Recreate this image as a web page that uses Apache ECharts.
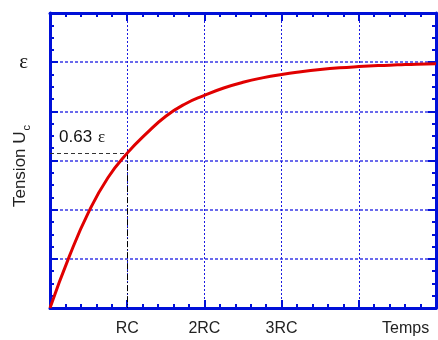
<!DOCTYPE html>
<html>
<head>
<meta charset="utf-8">
<script src="https://cdn.jsdelivr.net/npm/echarts@6/dist/echarts.min.js"></script>
<style>
  html, body { margin: 0; padding: 0; background: #fff; }
  #chart { width: 438px; height: 340px; }
</style>
</head>
<body>
<div id="chart"></div>
<script>
// temps en unités de RC, tension en unités de ε
var tValues = [0, 0.25, 0.5, 0.75, 1, 1.25, 1.5, 1.75, 2, 2.25, 2.5, 2.75, 3, 3.25, 3.5, 3.75, 4, 4.25, 4.5, 4.75, 5];
var uValues = [0, 0.21, 0.39, 0.53, 0.63, 0.71, 0.78, 0.83, 0.865, 0.895, 0.918, 0.936, 0.95, 0.961, 0.97, 0.977, 0.982, 0.986, 0.989, 0.992, 0.994];
var xTickLabels = ['', 'RC', '2RC', '3RC', '', ''];
var yTickLabels = ['', '', '', '', '', '\u03b5', ''];
var tau = 1, uTau = 0.63;

var blue = '#0010d8';
var chart = echarts.init(document.getElementById('chart'));

var curve = tValues.map(function (t, i) { return [t, uValues[i]]; });

function axisBase(pos) {
  return {
    type: 'value',
    position: pos,
    axisLine: { show: true, onZero: false, lineStyle: { color: blue, width: 3 } },
    axisTick: { show: true, inside: true, length: 8, lineStyle: { color: blue, width: 2 } },
    minorTick: { show: true, length: 4, lineStyle: { color: blue, width: 2 } },
    splitLine: { show: false },
    axisLabel: { show: false }
  };
}

var xBottom = axisBase('bottom');
xBottom.min = 0; xBottom.max = 5; xBottom.interval = 1;
xBottom.minorTick.splitNumber = 5;
xBottom.splitLine = { show: true, lineStyle: { color: '#1a1ae0', width: 1, type: [2, 2] } };
xBottom.axisLabel = {
  show: true, margin: 13, color: '#222', fontSize: 16, fontFamily: 'Liberation Sans',
  formatter: function (v) { return xTickLabels[Math.round(v)] || ''; }
};

var xTop = axisBase('top');
xTop.min = 0; xTop.max = 5; xTop.interval = 1;
xTop.minorTick.splitNumber = 5;

var yLeft = axisBase('left');
yLeft.min = 0; yLeft.max = 1.2; yLeft.interval = 0.2;
yLeft.minorTick.splitNumber = 4;
yLeft.splitLine = { show: true, lineStyle: { color: '#3a3ae6', width: 1.5, type: [3, 2] } };
yLeft.axisLabel = {
  show: true, margin: 22, color: '#111', fontSize: 21, fontFamily: 'Liberation Serif',
  formatter: function (v) { return yTickLabels[Math.round(v * 5)] || ''; }
};

var yRight = axisBase('right');
yRight.min = 0; yRight.max = 1.2; yRight.interval = 0.2;
yRight.minorTick.splitNumber = 4;

var option = {
  animation: false,
  grid: { left: 50, right: 2, top: 13, bottom: 32, outerBoundsMode: 'none' },
  xAxis: [xBottom, xTop],
  yAxis: [yLeft, yRight],
  graphic: [
    {
      type: 'text', x: 20, y: 166, rotation: Math.PI / 2,
      style: {
        text: 'Tension U{s|c}', align: 'center', verticalAlign: 'middle',
        fontSize: 17, fontFamily: 'Liberation Sans', fill: '#222',
        rich: { s: { fontSize: 11, fontFamily: 'Liberation Sans', fill: '#222', padding: [14, 0, 0, 1] } }
      }
    },
    { type: 'text', left: 59, top: 129, style: { text: '0.63', fontSize: 17, fontFamily: 'Liberation Sans', fill: '#111' } },
    { type: 'text', left: 98, top: 129, style: { text: '\u03b5', fontSize: 17, fontFamily: 'Liberation Serif', fill: '#111' } },
    { type: 'text', left: 382, top: 321, style: { text: 'Temps', fontSize: 16, fontFamily: 'Liberation Sans', fill: '#222' } }
  ],
  series: [{
    type: 'line',
    data: curve,
    smooth: true,
    showSymbol: false,
    lineStyle: { color: '#e00000', width: 3 },
    z: 5,
    markLine: {
      silent: true,
      symbol: 'none',
      label: { show: false },
      lineStyle: { color: '#333', width: 1, type: [4, 3] },
      data: [
        [{ coord: [0, uTau] }, { coord: [tau, uTau] }],
        [{ coord: [tau, uTau], lineStyle: { color: '#000', type: [6, 2, 1, 2] } }, { coord: [tau, 0] }]
      ]
    }
  }]
};

chart.setOption(option);
</script>
</body>
</html>
